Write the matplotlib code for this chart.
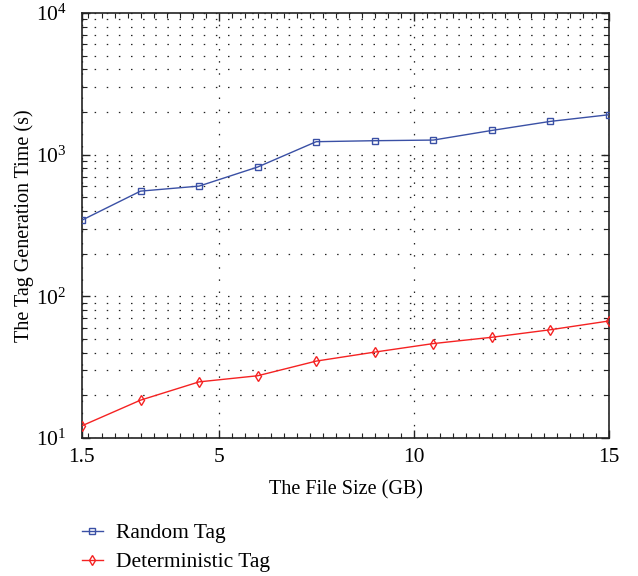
import matplotlib
matplotlib.use("Agg")
import matplotlib.pyplot as plt
from matplotlib.ticker import MultipleLocator, FixedLocator, LogLocator, NullFormatter

plt.rcParams['font.family'] = ['Liberation Serif', 'DejaVu Serif']
plt.rcParams['mathtext.fontset'] = 'custom'
plt.rcParams['mathtext.rm'] = 'Liberation Serif'
plt.rcParams['mathtext.it'] = 'Liberation Serif:italic'

file_size = [1.5, 3, 4.5, 6, 7.5, 9, 10.5, 12, 13.5, 15]
random_tag = [345, 553, 600, 818, 1235, 1255, 1268, 1483, 1718, 1914]
deterministic_tag = [12.2, 18.5, 24.9, 27.5, 34.9, 40.4, 46.4, 51.4, 58.1, 67.0]
x_ticks = [1.5, 5, 10, 15]
x_tick_labels = ["1.5", "5", "10", "15"]

fig = plt.figure(figsize=(6.38, 5.76), dpi=100)
ax = fig.add_axes([0.1285, 0.2396, 0.826, 0.7378])

blue = '#3a50a5'
red = '#f52222'
ax.plot(file_size, random_tag, color=blue, lw=1.0, marker='s', ms=4.5,
        mfc='none', mec=blue, mew=1.0, label='Random Tag', zorder=3)
ax.plot(file_size, deterministic_tag, color=red, lw=1.0, marker='d', ms=5.5,
        mfc='none', mec=red, mew=1.0, label='Deterministic Tag', zorder=3)

ax.set_yscale('log')
ax.set_ylim(10, 1e4)
ax.set_xlim(1.5, 15)
ax.xaxis.set_major_locator(FixedLocator(x_ticks))
ax.set_xticklabels(x_tick_labels)
ax.xaxis.set_minor_locator(MultipleLocator(1/3))
ax.yaxis.set_major_locator(LogLocator(base=10, numticks=10))
ax.yaxis.set_minor_locator(LogLocator(base=10, subs=range(2, 10), numticks=10))
ax.yaxis.set_minor_formatter(NullFormatter())

ax.tick_params(which='both', direction='in', top=True, right=True, colors='#222222')
ax.tick_params(which='major', length=6, width=1.0, labelsize=15.5, labelcolor='black')
ax.tick_params(which='minor', length=3.5, width=0.8)
ax.tick_params(axis='x', which='major', pad=7)
ax.tick_params(axis='y', which='major', pad=11)

dots = (0, (1.2, 8.5))
ax.grid(True, axis='y', which='both', linestyle=dots, color='#222222', lw=0.9)
ax.grid(True, axis='x', which='major', linestyle=dots, color='#222222', lw=0.9)

for s in ax.spines.values():
    s.set_linewidth(1.2)
    s.set_color('#222222')

ax.set_xlabel('The File Size (GB)', fontsize=14.5, labelpad=10)
ax.set_ylabel('The Tag Generation Time (s)', fontsize=14.5, labelpad=1)

fig.legend(loc='upper left', bbox_to_anchor=(0.128, 0.092), frameon=False,
           fontsize=15.5, handlelength=1.0, handletextpad=0.6, labelspacing=0.42,
           borderaxespad=0, borderpad=0)

fig.savefig('out.png', dpi=100)
